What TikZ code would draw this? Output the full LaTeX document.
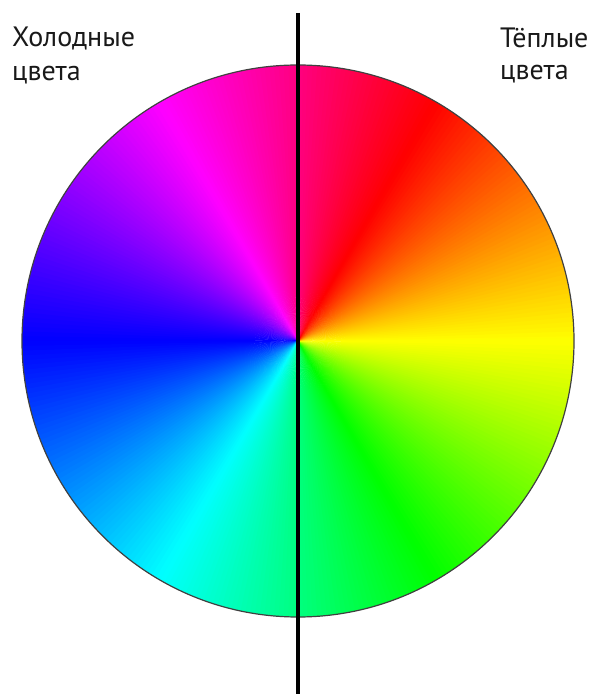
\documentclass[tikz,border=0pt]{standalone}
\usepackage{fontspec}
\setmainfont{PT Sans}
\begin{document}
\begin{tikzpicture}[x=1pt,y=1pt,
  lbl/.style={anchor=base west,inner sep=0pt,font=\fontsize{28}{34}\selectfont,text=black!90}]
\useasboundingbox (0,0) rectangle (592,694);
\fill[white] (0,0) rectangle (592,694);
\coordinate (c) at (298,353);
\foreach \a in {0,...,359}{
  \pgfmathsetmacro\h{mod(60-\a-0.5+720,360)}
  \definecolor{wc}{Hsb}{\h,1,1}
  \fill[wc] (c) -- ++(\a:276) arc[start angle=\a, end angle=\a+1.6, radius=276] -- cycle;
}
\draw[line width=1.2pt, black!75] (c) circle[radius=276];
\coordinate (top) at (298,681);
\coordinate (bot) at (298,0);
\draw[line width=4pt] (top) -- (bot);
\node[lbl] (cold1) at (12,647) {Холодные};
\node[lbl] (cold2) at (12,613) {цвета};
\node[lbl] (warm1) at (500,646) {Тёплые};
\node[lbl] (warm2) at (500,614) {цвета};
\end{tikzpicture}
\end{document}
